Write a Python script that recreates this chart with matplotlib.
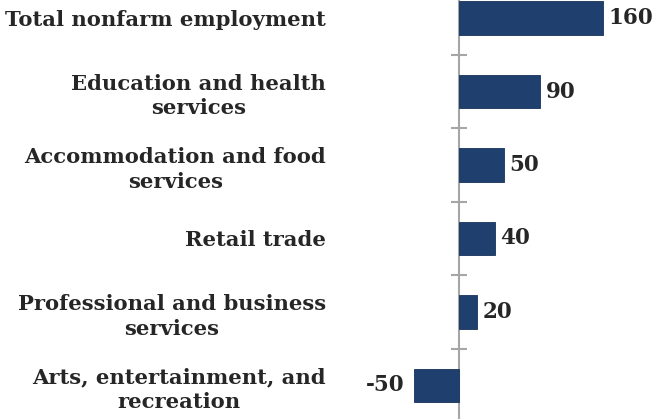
import matplotlib.pyplot as plt
import numpy as np

# Job change by industry (thousands)
industries = ['Total nonfarm employment',
              'Education and health\nservices',
              'Accommodation and food\nservices',
              'Retail trade',
              'Professional and business\nservices',
              'Arts, entertainment, and\nrecreation']
changes = [160, 90, 50, 40, 20, -50]

bar_color = '#1f3f6f'
text_color = '#262626'
axis_gray = '#a6a6a6'

fig = plt.figure(figsize=(6.65, 4.19), dpi=100)
ax = fig.add_axes([340 / 665, 0, 325 / 665, 1])

pos = np.arange(len(industries))
ax.axvline(0, color=axis_gray, lw=1.5, zorder=1)
ax.barh(pos, changes, height=0.46, color=bar_color, edgecolor='#17325a', lw=0.6, zorder=2)

# small separator ticks on the zero axis between categories
ax.hlines(pos[:-1] + 0.5, -9, 9, color=axis_gray, lw=1.5, zorder=1)

for p, v in zip(pos, changes):
    ax.annotate(f'{v}', (v, p), xytext=(4 if v >= 0 else -7, 0), textcoords='offset points',
                ha='left' if v >= 0 else 'right', va='center',
                family='DejaVu Serif', fontweight='bold', fontsize=15.5, color=text_color)

ax.set_xlim(-132.2, 228.9)
ax.set_ylim(5.456, -0.245)
ax.set_yticks(pos)
ax.set_yticklabels(industries, family='DejaVu Serif', fontweight='bold', fontsize=15.2,
                   color=text_color, linespacing=1.3, multialignment='center')
ax.tick_params(axis='y', length=0, pad=10)
ax.set_xticks([])
for s in ax.spines.values():
    s.set_visible(False)

fig.savefig('out.png', dpi=100)
